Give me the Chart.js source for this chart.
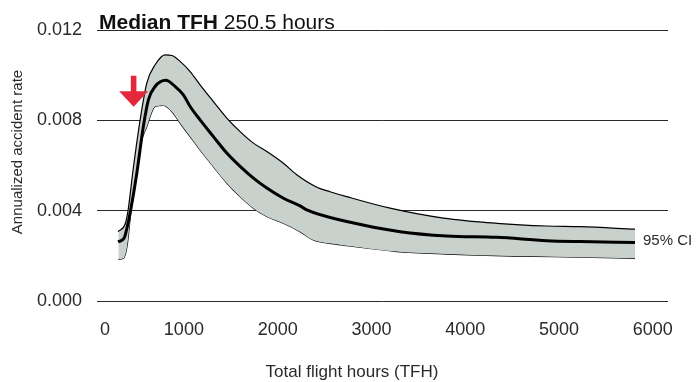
<!DOCTYPE html>
<html>
<head>
<meta charset="utf-8">
<script src="https://cdn.jsdelivr.net/npm/chart.js@4.4.1/dist/chart.umd.min.js"></script>
<style>
  html, body { margin: 0; padding: 0; background: #fff; }
</style>
</head>
<body>
<canvas id="tfhChart" width="700" height="382"></canvas>
<script>
// values (hours, annualized rate)
const medianHours = [85, 150, 180, 219, 285, 352, 408, 480, 594, 693, 781, 853, 959, 1101, 1244, 1386, 1528, 1671, 1848, 2026, 2097, 2523, 3092, 3590, 4123, 4656, 5011, 5597];
const medianRate = [0.00262, 0.00279, 0.00324, 0.00403, 0.00567, 0.00767, 0.00891, 0.0095, 0.00977, 0.0095, 0.00913, 0.00861, 0.00802, 0.00728, 0.00655, 0.00596, 0.00544, 0.005, 0.00455, 0.00421, 0.00403, 0.00352, 0.00307, 0.00288, 0.00282, 0.00267, 0.00263, 0.00259];

const upperHours = [85, 160, 192, 245, 320, 391, 480, 586, 658, 746, 853, 959, 1101, 1244, 1386, 1528, 1671, 1848, 1990, 2204, 2345, 2523, 2985, 3553, 4123, 4656, 5011, 5597];
const upperRate = [0.00307, 0.00341, 0.00403, 0.00581, 0.00802, 0.00965, 0.01046, 0.0109, 0.01087, 0.01061, 0.01016, 0.00957, 0.00883, 0.0081, 0.0075, 0.00699, 0.00662, 0.0061, 0.00559, 0.00504, 0.00484, 0.00462, 0.00411, 0.00367, 0.00344, 0.00332, 0.00329, 0.00318];

const lowerHours = [88, 142, 181, 224, 248, 320, 391, 480, 568, 658, 746, 853, 959, 1101, 1244, 1386, 1528, 1671, 1848, 2026, 2167, 2381, 2523, 3057, 3590, 4300, 5011, 5597];
const lowerRate = [0.00185, 0.00189, 0.00244, 0.00403, 0.00462, 0.00684, 0.00773, 0.00861, 0.00866, 0.00839, 0.00788, 0.00728, 0.00669, 0.00595, 0.00522, 0.00462, 0.00411, 0.00374, 0.00344, 0.00307, 0.0027, 0.00253, 0.00245, 0.00219, 0.00208, 0.00199, 0.00194, 0.00189];

const xTicks = [0, 1000, 2000, 3000, 4000, 5000, 6000];
const yTicks = [0, 0.004, 0.008, 0.012];

const medianTFH = 250.5;
const arrowTipRate = 0.0086;

const FONT = "'Liberation Sans', Arial, sans-serif";
const TEXT = "#2a2a2a";

const toPoints = (hours, rates) => hours.map((h, i) => ({ x: h, y: rates[i] }));

// title, axis titles, CI label and the red arrow
const annotations = {
  id: "annotations",
  afterDatasetsDraw(chart) {
    const { ctx, scales: { x, y } } = chart;
    const tipX = x.getPixelForValue(medianTFH);
    const tipY = y.getPixelForValue(arrowTipRate);
    ctx.save();
    ctx.fillStyle = "#e3283c";
    ctx.beginPath();
    ctx.moveTo(tipX, tipY);
    ctx.lineTo(tipX - 14.5, tipY - 15.5);
    ctx.lineTo(tipX - 2.8, tipY - 15.5);
    ctx.lineTo(tipX - 2.8, tipY - 31);
    ctx.lineTo(tipX + 2.8, tipY - 31);
    ctx.lineTo(tipX + 2.8, tipY - 15.5);
    ctx.lineTo(tipX + 14.5, tipY - 15.5);
    ctx.closePath();
    ctx.fill();
    ctx.restore();
  },
  afterDraw(chart) {
    const { ctx, scales: { x, y } } = chart;
    ctx.save();
    ctx.fillStyle = "#111";
    ctx.textBaseline = "alphabetic";
    ctx.textAlign = "left";
    ctx.font = "bold 21px " + FONT;
    ctx.fillText("Median TFH", 99, 29);
    const w = ctx.measureText("Median TFH ").width;
    ctx.font = "21px " + FONT;
    ctx.fillText("250.5 hours", 99 + w, 29);

    ctx.fillStyle = TEXT;
    ctx.font = "15px " + FONT;
    ctx.textBaseline = "middle";
    const lastX = x.getPixelForValue(upperHours[upperHours.length - 1]);
    const lastY = y.getPixelForValue(medianRate[medianRate.length - 1]);
    ctx.fillText("95% CI", lastX + 8, lastY - 2);

    ctx.textAlign = "center";
    ctx.font = "17px " + FONT;
    ctx.fillText("Total flight hours (TFH)", 352, 372);

    ctx.translate(17.5, 152);
    ctx.rotate(-Math.PI / 2);
    ctx.font = "15px " + FONT;
    ctx.fillText("Annualized accident rate", 0, 0);
    ctx.restore();
  }
};

const ctx = document.getElementById("tfhChart").getContext("2d");

new Chart(ctx, {
  type: "line",
  data: {
    datasets: [
      {
        label: "Median",
        data: toPoints(medianHours, medianRate),
        borderColor: "#000",
        borderWidth: 3,
        pointRadius: 0,
        fill: false,
        cubicInterpolationMode: "monotone"
      },
      {
        label: "Upper 95% CI",
        data: toPoints(upperHours, upperRate),
        borderColor: "#000",
        borderWidth: 1.2,
        pointRadius: 0,
        backgroundColor: "#c9d1cd",
        fill: 2,
        cubicInterpolationMode: "monotone"
      },
      {
        label: "Lower 95% CI",
        data: toPoints(lowerHours, lowerRate),
        borderColor: "#000",
        borderWidth: 1.2,
        pointRadius: 0,
        fill: false,
        cubicInterpolationMode: "monotone"
      }
    ]
  },
  options: {
    responsive: false,
    animation: false,
    layout: { padding: { top: 30, right: 32, bottom: 0, left: 0 } },
    plugins: {
      legend: { display: false },
      tooltip: { enabled: false }
    },
    scales: {
      x: {
        type: "linear",
        min: -140,
        max: 5949,
        grid: { display: false },
        border: { display: false },
        afterBuildTicks: (scale) => {
          scale.ticks = xTicks.map((v) => ({ value: v }));
        },
        afterFit: (scale) => {
          scale.height = 81;
        },
        ticks: {
          align: "end",
          autoSkip: false,
          maxRotation: 0,
          padding: 10,
          color: TEXT,
          font: { family: FONT, size: 18 },
          callback: (v) => String(v)
        }
      },
      y: {
        min: 0,
        max: 0.012,
        afterBuildTicks: (scale) => {
          scale.ticks = yTicks.map((v) => ({ value: v }));
        },
        afterFit: (scale) => {
          scale.width = 97;
        },
        grid: { color: "#2a2a2a", lineWidth: 1, drawTicks: false },
        border: { display: false },
        ticks: {
          padding: 15,
          color: TEXT,
          font: { family: FONT, size: 18 },
          callback: (v) => v.toFixed(3)
        }
      }
    }
  },
  plugins: [annotations]
});
</script>
</body>
</html>
